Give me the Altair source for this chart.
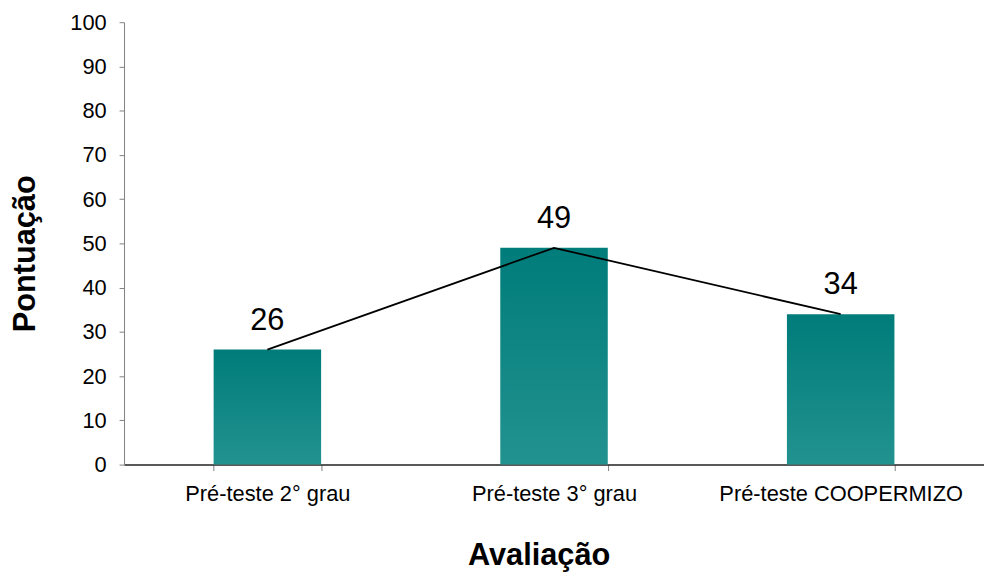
import altair as alt
import pandas as pd

categories = ["Pré-teste 2° grau", "Pré-teste 3° grau", "Pré-teste COOPERMIZO"]
values = [26, 49, 34]

df = pd.DataFrame({"cat": categories, "val": values})

FONT = "Liberation Sans"

x_enc = alt.X(
    "cat:N",
    sort=categories,
    scale=alt.Scale(paddingInner=0.625, paddingOuter=0.3125),
    axis=alt.Axis(
        title="Avaliação",
        titleFont=FONT, titleFontSize=31, titleFontWeight="bold", titleColor="black",
        titleX=418, titleY=92, titleBaseline="middle", titleAnchor="start", titleAlign="center",
        labelAngle=0, labelFont=FONT, labelFontSize=22, labelColor="black", labelLimit=400,
        labelPadding=13, tickBand="extent", tickSize=6, tickColor="#808080",
        domainColor="#222222", domainWidth=1.5, grid=False,
    ),
)
y_enc = alt.Y(
    "val:Q",
    scale=alt.Scale(domain=[0, 100], nice=False),
    axis=alt.Axis(
        title="Pontuação",
        titleFont=FONT, titleFontSize=31, titleFontWeight="bold", titleColor="black",
        titleX=-99, titleY=233, titleBaseline="middle", titleAlign="center", titleAngle=-90,
        values=list(range(0, 101, 10)),
        labelFont=FONT, labelFontSize=22, labelColor="black", labelPadding=13,
        tickSize=5, tickColor="#808080", domainColor="#808080", grid=False,
    ),
)

gradient = alt.Gradient(
    gradient="linear",
    stops=[alt.GradientStop(color="#007C7A", offset=0), alt.GradientStop(color="#22928F", offset=1)],
    x1=0, x2=0, y1=0, y2=1,
)

base = alt.Chart(df)
bars = base.mark_bar(color=gradient).encode(x=x_enc, y=y_enc)
line = base.mark_line(color="black", strokeWidth=1.8).encode(x=alt.X("cat:N", sort=categories), y="val:Q")
labels = base.mark_text(font=FONT, fontSize=31, color="black", baseline="alphabetic", dy=-20).encode(
    x=alt.X("cat:N", sort=categories), y="val:Q", text="val:Q"
)

chart = (
    alt.layer(bars, line, labels)
    .properties(
        width=867,
        height=446,
        autosize=alt.AutoSizeParams(type="none"),
        padding={"left": 117, "top": 12, "right": 0, "bottom": 112},
    )
    .configure_view(stroke=None)
)

chart.save("out.html", embed_options={"renderer": "svg", "actions": False})
